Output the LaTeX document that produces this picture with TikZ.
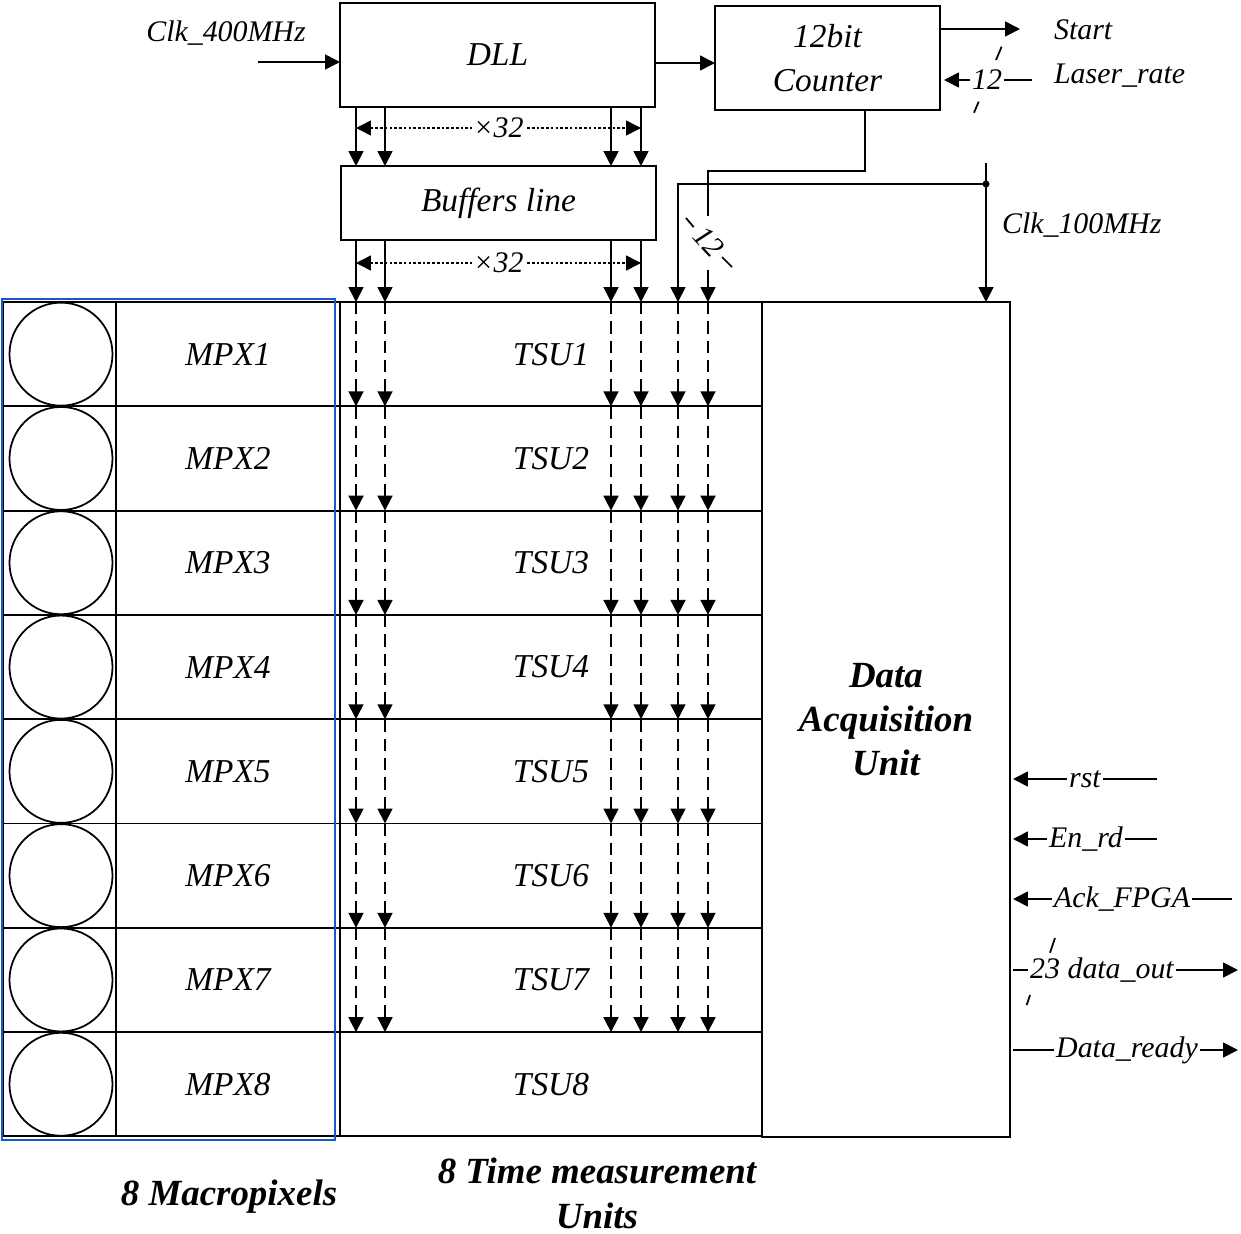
\documentclass[tikz,border=0pt]{standalone}
\usepackage{fontspec}
\setmainfont{Liberation Serif}
\usetikzlibrary{arrows.meta,positioning}
\definecolor{mpxblue}{RGB}{25,90,200}

\begin{document}
\begin{tikzpicture}[x=0.2mm,y=-0.2mm,
    >={Triangle[length=8.5pt,width=8.5pt]},
    blk/.style={draw,line width=1.1pt,inner sep=0pt,outer sep=0pt,align=center,
      font=\fontsize{19}{25}\selectfont\itshape},
    lbl/.style={inner sep=1pt,font=\fontsize{17}{20}\selectfont\itshape},
    sig/.style={lbl,fill=white},
    wire/.style={line width=1pt},
    bus/.style={wire,dash pattern=on 7pt off 4pt},
    dots/.style={line width=0.9pt,dash pattern=on 1.5pt off 1.2pt},
    title/.style={align=center,inner sep=0pt,font=\fontsize{21}{25.5}\selectfont\bfseries\itshape}]

\useasboundingbox (0,0) rectangle (1241,1234);

% Top blocks
\node[blk,minimum width=63mm,minimum height=20.8mm] (dll) at (497.5,55) {DLL};
\node[blk,minimum width=45mm,minimum height=20.8mm] (cnt) at (827.5,58) {12bit\\Counter};
\node[blk,minimum width=63mm,minimum height=14.8mm] (buf) at (498.5,203) {Buffers line};

% Macropixels and TSUs
\foreach \i in {1,...,8}{
  \pgfmathsetmacro\yc{249.85+104.3*\i}
  \node[blk,minimum width=22.6mm,minimum height=20.86mm] (cell\i) at (59.5,\yc) {};
  \node[draw,circle,line width=1pt,minimum size=20.6mm,inner sep=0pt] (pix\i) at (61,\yc) {};
  \node[blk,minimum width=44.8mm,minimum height=20.86mm] (mpx\i) at (228,\yc) {MPX\i};
  \node[blk,minimum width=84.4mm,minimum height=20.86mm] (tsu\i) at (551,\yc) {TSU\i};
}

% Data acquisition unit
\node[blk,minimum width=49.6mm,minimum height=167mm,
  font=\fontsize{21}{25}\selectfont\bfseries\itshape] (dau) at (886,719.5) {Data\\Acquisition\\Unit};

% Blue frame
\draw[mpxblue,line width=1.1pt] (2,299) rectangle (335,1140);

% Bus columns
\foreach \n/\x in {1/356,2/385,3/611,4/641,5/678,6/708}
  \coordinate (c\n) at (\x,0);

% DLL -> buffers -> TSU1
\foreach \n in {1,...,4}{
  \draw[wire,->] (c\n |- dll.south) -- (c\n |- buf.north);
  \draw[wire,->] (c\n |- buf.south) -- (c\n |- tsu1.north);
}
\draw[dots,<->] (c1 |- 0,128) -- (c4 |- 0,128) node[sig,midway] (x32a) {×32};
\draw[dots,<->] (c1 |- 0,263) -- (c4 |- 0,263) node[sig,midway] (x32b) {×32};

% Dashed buses through TSU1..TSU7
\foreach \i in {1,...,7}
  \foreach \n in {1,...,6}
    \draw[bus,->] (c\n |- tsu\i.north) -- (c\n |- tsu\i.south);

% Counter -> TSU
\coordinate (bend) at (708,171);
\coordinate (cutA) at (708,216);
\coordinate (cutB) at (708,270);
\draw[wire] ([xshift=7.5mm]cnt.south) |- (bend) -- (cutA);
\draw[wire,->] (cutB) -- (c6 |- tsu1.north);
\node[lbl,inner sep=0pt,rotate=-47] (n12b) at (709,242) {12};
\draw[wire] (686,218) -- (693.6,227) (722,257) -- (732,267);

% Clk 100MHz
\coordinate (clkin) at (986,163);
\coordinate (clkdot) at (986,184);
\draw[wire,->] (clkin) -- (clkin |- dau.north);
\draw[wire,->] (clkdot) -| (c5 |- tsu1.north);
\fill (clkdot) circle (2pt);
\node[lbl,anchor=west] (clk100) at (1000,225) {Clk\_100MHz};

% Clk 400MHz
\coordinate (clk400) at (258,62);
\draw[wire,->] (clk400) -- (clk400 -| dll.west);
\node[lbl] (clkin400) at (226,33) {Clk\_400MHz};

% DLL -> counter
\coordinate (lk) at (0,63);
\draw[wire,->] (dll.east |- lk) -- (cnt.west |- lk);

% Start and Laser_rate
\coordinate (startout) at (1020,29);
\draw[wire,->] (startout -| cnt.east) -- (startout);
\node[lbl,anchor=west] (start) at (1052,30) {Start};
\coordinate (laserin) at (1032,80);
\draw[wire,->,shorten >=0.8mm] (laserin) -- (laserin -| cnt.east);
\node[sig] (n12a) at (987,80) {12};
\draw[wire] (1001.6,46.7) -- (996,60) (978.7,101.7) -- (974,112.7);
\node[lbl,anchor=west] (laser) at (1052,76) {Laser\_rate};

% DAU signals
\foreach \y/\xe/\xt/\txt [count=\k] in {779/1157/1085/rst,839/1157/1086/En\_rd,899/1232/1122/Ack\_FPGA}{
  \coordinate (in\k) at (\xe,\y);
  \draw[wire,->,shorten >=0.6mm] (in\k) -- (in\k -| dau.east);
  \node[sig] (s\k) at (\xt,\y) {\txt};
}
\coordinate (dout) at (1238,970);
\draw[wire,->,shorten <=0.6mm] (dout -| dau.east) -- (dout);
\node[sig] (s4) at (1102,970) {23 data\_out};
\draw[wire] (1055,938) -- (1050,952.7) (1030,995) -- (1026.7,1005);
\coordinate (drdy) at (1238,1050);
\draw[wire,->,shorten <=0.6mm] (drdy -| dau.east) -- (drdy);
\node[sig] (s5) at (1127,1050) {Data\_ready};

% Titles
\node[title] (tmpx) at (229,1197) {8 Macropixels};
\node[title] (ttsu) at (597,1193) {8 Time measurement\\Units};
\end{tikzpicture}
\end{document}
